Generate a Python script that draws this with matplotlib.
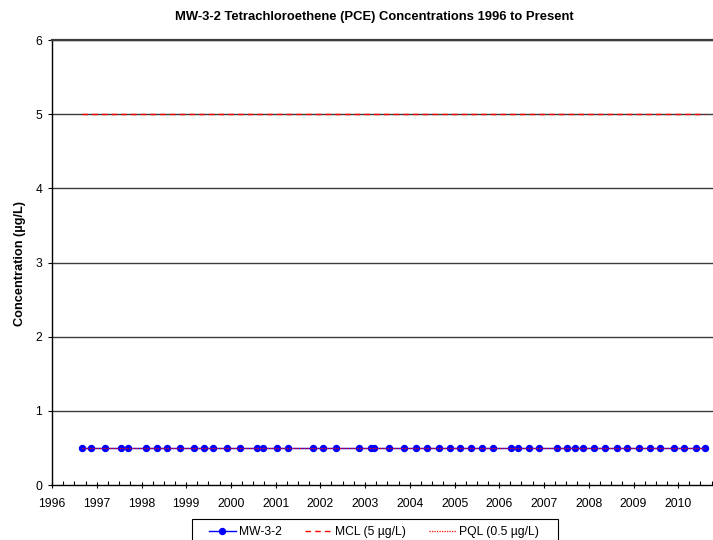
import pandas as pd
import numpy as np
import matplotlib
matplotlib.use('Agg')
import matplotlib.pyplot as plt
import matplotlib.dates as mdates
from matplotlib.patches import Rectangle

plt.rcParams['font.family'] = ['Liberation Sans', 'DejaVu Sans']

# sample dates (all results at 0.5 ug/L)
sample_dates = ['1996-09-06', '1996-11-17', '1997-03-11', '1997-07-16', '1997-09-16',
                '1998-02-03', '1998-05-05', '1998-07-31', '1998-11-10', '1999-03-08',
                '1999-05-23', '1999-08-08', '1999-11-29', '2000-03-17', '2000-07-31',
                '2000-09-16', '2001-01-12', '2001-04-13', '2001-10-30', '2002-01-23',
                '2002-05-09', '2002-11-10', '2003-02-17', '2003-03-11', '2003-07-16',
                '2003-11-18', '2004-02-21', '2004-05-19', '2004-08-25', '2004-11-25',
                '2005-02-14', '2005-05-16', '2005-08-11', '2005-11-14', '2006-04-05',
                '2006-06-03', '2006-09-02', '2006-11-21', '2007-04-20', '2007-07-05',
                '2007-09-09', '2007-11-17', '2008-02-14', '2008-05-16', '2008-08-19',
                '2008-11-10', '2009-02-17', '2009-05-12', '2009-08-04', '2009-11-28',
                '2010-02-21', '2010-05-23', '2010-08-08']
pce = [0.5] * len(sample_dates)

MCL = 5.0
PQL = 0.5
x_start = '1996-01-01'
x_end = '2010-10-12'

dates = pd.to_datetime(sample_dates)
xlim = pd.to_datetime([x_start, x_end])
span = [dates[0], dates[-1]]

fig = plt.figure(figsize=(7.13, 5.40), dpi=100)
ax = fig.add_axes([52/713, 1-485/540, 1-52/713, (485-40)/540])

ax.set_ylim(0, 6)
ax.set_xlim(xlim[0], xlim[1])
ax.set_yticks(range(0, 7))
for y in range(1, 7):
    ax.axhline(y, color='#3c3c3c', lw=1.0, zorder=1)

ax.plot(dates, pce, color='blue', lw=1.0, marker='o', markersize=4.3,
        markeredgecolor='blue', markerfacecolor='blue', label='MW-3-2', zorder=3)
ax.plot(span, [MCL, MCL], color='red', lw=1.0, ls=(0, (4, 3)), label='MCL (5 µg/L)', zorder=4)
ax.plot(span, [PQL, PQL], color='red', lw=0.9, ls=(0, (1, 1)), label='PQL (0.5 µg/L)', zorder=4)

ax.xaxis.set_major_locator(mdates.YearLocator())
ax.xaxis.set_major_formatter(mdates.DateFormatter('%Y'))
ax.xaxis.set_minor_locator(mdates.MonthLocator(bymonth=[4, 7, 10]))
ax.tick_params(axis='x', which='major', direction='inout', length=5, width=0.8, pad=7, labelsize=8.7)
ax.tick_params(axis='x', which='minor', direction='in', length=3, width=0.8)
ax.tick_params(axis='y', direction='out', length=3, width=0.8, pad=4, labelsize=8.7)

ax.spines['right'].set_visible(False)
ax.spines['top'].set_color('#3c3c3c')
ax.spines['top'].set_linewidth(1.6)
ax.spines['left'].set_linewidth(1.0)
ax.spines['bottom'].set_linewidth(1.0)

fig.text(374/713, 1-17/540, 'MW-3-2 Tetrachloroethene (PCE) Concentrations 1996 to Present',
         ha='center', va='center', fontsize=9.4, fontweight='bold')
fig.text(20/713, 1-263/540, 'Concentration (µg/L)', rotation=90,
         ha='center', va='center', fontsize=9.2, fontweight='bold')

# legend box runs off the bottom edge like the original
fig.patches.append(Rectangle((192/713, 1-545/540), (558-192)/713, (545-519)/540,
                             transform=fig.transFigure, facecolor='white',
                             edgecolor='black', lw=0.8, zorder=0))
leg = fig.legend(loc='center', bbox_to_anchor=(374/713, 1-532/540), ncol=3,
                 fontsize=8.7, frameon=False,
                 handlelength=2.2, handletextpad=0.3, columnspacing=1.9,
                 borderpad=0, borderaxespad=0)

fig.savefig('out.png', dpi=100)
